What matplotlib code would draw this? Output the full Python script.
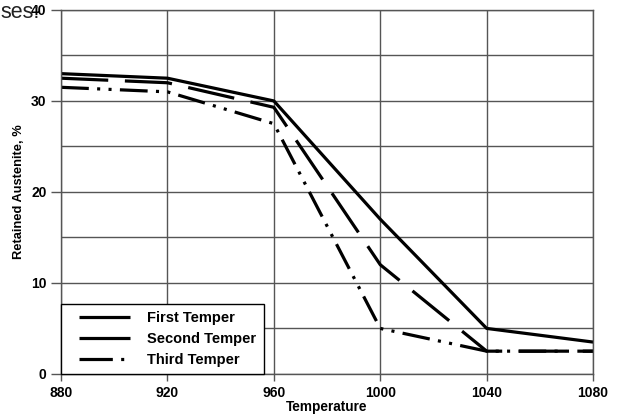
import matplotlib
matplotlib.use("Agg")
import matplotlib.pyplot as plt
from matplotlib.lines import Line2D
from matplotlib.legend_handler import HandlerLine2D

# Retained austenite vs hardening temperature
temps = [880, 920, 960, 1000, 1040, 1080]
first_temper = [33.0, 32.5, 30.0, 17.0, 5.0, 3.5]
second_temper = [32.5, 32.0, 29.3, 12.0, 2.5, 2.5]
third_temper = [31.5, 31.0, 27.5, 5.0, 2.5, 2.5]

plt.rcParams['font.family'] = ['Liberation Sans', 'DejaVu Sans']
plt.rcParams['lines.scale_dashes'] = False

fig = plt.figure(figsize=(6.23, 4.15), dpi=100)
ax = fig.add_axes([0.098, 0.099, 0.854, 0.877])

ax.plot(temps, first_temper, color='black', lw=2.3, solid_capstyle='butt',
        label='First Temper')
ax.plot(temps, second_temper, color='black', lw=2.3, dashes=(34, 12),
        dash_capstyle='butt', label='Second Temper')
ax.plot(temps, third_temper, color='black', lw=2.3,
        dashes=(20, 6, 2.2, 6, 2.2, 6), dash_capstyle='butt',
        label='Third Temper')

ax.set_xlim(880, 1080)
ax.set_ylim(0, 40)
ax.set_xticks(temps)
ax.set_yticks([0, 10, 20, 30, 40])
ax.set_yticks([5, 15, 25, 35], minor=True)
ax.grid(True, which='both', color='#555555', lw=1.0)
ax.set_axisbelow(True)
for s in ax.spines.values():
    s.set_color('#555555')
    s.set_linewidth(1.0)
ax.tick_params(axis='y', which='major', length=7, width=1, color='#555555')
ax.tick_params(axis='y', which='minor', length=0)
ax.tick_params(axis='x', length=5, width=1, color='#555555')
ax.tick_params(labelsize=10)
for lab in ax.get_xticklabels() + ax.get_yticklabels():
    lab.set_fontweight('bold')

ax.set_xlabel('Temperature', fontsize=9.8, fontweight='bold', labelpad=0)
ax.set_ylabel('Retained Austenite, %', fontsize=9.3, fontweight='bold', labelpad=4)

leg = ax.legend(loc='lower left', bbox_to_anchor=(0, 0), borderaxespad=0,
                fancybox=False, edgecolor='black', framealpha=1,
                handlelength=4.2, handletextpad=1.2, borderpad=0.5,
                labelspacing=0.45, prop={'size': 10.5, 'weight': 'bold'},
                handler_map={Line2D: HandlerLine2D(xpad=0.7)})
leg.get_frame().set_linewidth(1.0)
# short legend samples: second looks solid, third shows one dash and a dot
leg_lines = leg.get_lines()
leg_lines[1].set_dashes((40, 12))
leg_lines[2].set_dashes((24, 6, 2.2, 12))

fig.text(0.0, 1 - 18 / 415, 'ses:', fontsize=15.5, color='#222222',
         va='baseline')

fig.savefig('out.png', dpi=100)
